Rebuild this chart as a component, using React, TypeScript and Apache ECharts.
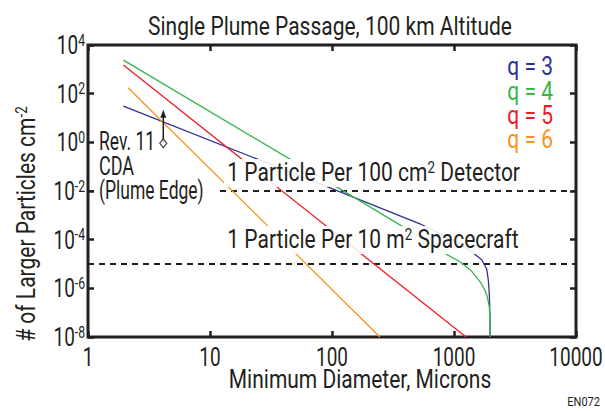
import React, { useEffect, useRef } from "react";
import * as echarts from "echarts";

// ---- data ----
const xTickValues = [1, 10, 100, 1000, 10000];
const xTickLabels = ["1", "10", "100", "1000", "10000"];
const yTickExponents = [4, 2, 0, -2, -4, -6, -8];

const seriesNames = ["q = 3", "q = 4", "q = 5", "q = 6"];
const seriesColors = ["#2e3192", "#39b54a", "#ed1c24", "#f7941d"];

const q3Data = [
  [1.95, 31], [100, 0.0124], [526, 4.5e-4], [1000, 9.2e-5], [1396, 3.2e-5],
  [1687, 1.5e-5], [1854, 6.2e-6], [1911, 2.2e-6], [1947, 6e-7], [1968, 1e-7], [1975, 1e-8],
];
const q4Data = [
  [1.95, 2400], [100, 0.0192], [500, 1.5e-4], [871, 2.5e-5], [1119, 1.24e-5], [1400, 5e-6],
  [1633, 1.9e-6], [1800, 8e-7], [1875, 4.5e-7], [1947, 1.75e-7], [1965, 6e-8], [1975, 1e-8],
];
const q5Data = [[1.95, 1500], [1255, 1e-8]];
const q6Data = [[2.13, 176], [247, 1e-8]];

const thresholdValues = [1e-2, 1e-5];
const thresholdRange = [1, 10000];
const cdaPoint = [4.14, 0.91];
const cdaArrowTop = 15;

const INK = "#231f20";
const FONT = "Roboto, 'Liberation Sans', sans-serif";

function rich(fill: string, size = 25, supSize = 16) {
  return {
    n: { fontFamily: FONT, fontSize: size, lineHeight: size + 1, fill },
    sup: { fontFamily: FONT, fontSize: supSize, lineHeight: supSize, verticalAlign: "top", fill },
  };
}

function label(id: string, x: number, y: number, text: string, o: any = {}) {
  return {
    type: "text",
    id,
    x,
    y,
    z: 100,
    scaleX: o.scaleX ?? 0.84,
    rotation: o.rotation ?? 0,
    silent: true,
    style: {
      text,
      fontFamily: FONT,
      fontSize: o.fontSize ?? 25,
      fill: o.fill ?? INK,
      align: o.align ?? "left",
      verticalAlign: "middle",
      rich: o.rich ?? rich(o.fill ?? INK),
      backgroundColor: o.bg,
      padding: o.padding,
    },
  };
}

export default function App() {
  const ref = useRef<HTMLDivElement>(null);
  useEffect(() => {
    const chart = echarts.init(ref.current!, null, { renderer: "svg" });
    const axisCommon = {
      axisLine: { show: false },
      axisTick: { show: true, inside: true, length: 6, lineStyle: { color: INK, width: 2.5 } },
      axisLabel: { show: false },
      splitLine: { show: false },
    };
    const lineSeries = (name: string, data: number[][], color: string) => ({
      name,
      type: "line",
      data,
      symbol: "none",
      clip: true,
      lineStyle: { color, width: 1.3 },
      z: 3,
    });
    chart.setOption({
      animation: false,
      grid: { left: 88, right: 29, top: 45, bottom: 74, show: true, borderColor: INK, borderWidth: 3, backgroundColor: "transparent" },
      xAxis: [
        { type: "log", logBase: 10, min: 1, max: 10000, position: "bottom", ...axisCommon },
        { type: "log", logBase: 10, min: 1, max: 10000, position: "top", ...axisCommon },
      ],
      yAxis: [
        { type: "log", logBase: 100, min: 1e-8, max: 1e4, position: "left", ...axisCommon },
        { type: "log", logBase: 100, min: 1e-8, max: 1e4, position: "right", ...axisCommon },
      ],
      series: [
        ...thresholdValues.map((v, i) => ({
          name: "threshold " + i,
          type: "line",
          symbol: "none",
          z: 2,
          lineStyle: { color: INK, width: 2, type: [6, 5] },
          data: thresholdRange.map((x) => [x, v]),
        })),
        lineSeries(seriesNames[0], q3Data, seriesColors[0]),
        lineSeries(seriesNames[1], q4Data, seriesColors[1]),
        lineSeries(seriesNames[2], q5Data, seriesColors[2]),
        lineSeries(seriesNames[3], q6Data, seriesColors[3]),
        {
          name: "CDA arrow",
          type: "line",
          z: 4,
          symbol: "none",
          showSymbol: true,
          lineStyle: { color: INK, width: 1.5 },
          itemStyle: { color: INK },
          data: [
            { value: cdaPoint, symbol: "none" },
            { value: [cdaPoint[0], cdaArrowTop], symbol: "triangle", symbolSize: [6, 8] },
          ],
        },
        {
          name: "Rev. 11 CDA",
          type: "scatter",
          z: 5,
          symbol: "diamond",
          symbolSize: [7, 9],
          itemStyle: { color: "#ffffff", borderColor: INK, borderWidth: 1.3 },
          data: [cdaPoint],
        },
      ],
    });

    const graphics: any[] = [];
    graphics.push(label("title", 330, 27, "{n|Single Plume Passage, 100 km Altitude}", { align: "center" }));
    graphics.push(label("xname", 360, 380, "{n|Minimum Diameter, Microns}", { align: "center" }));
    graphics.push(
      label("yname", 27, 224, "{n|# of Larger Particles cm}{sup|-2}", { align: "center", rotation: Math.PI / 2 })
    );
    xTickValues.forEach((v, i) => {
      const px = chart.convertToPixel({ xAxisIndex: 0 }, v) as number;
      graphics.push(label("xt" + i, px, 357, "{n|" + xTickLabels[i] + "}", { align: "center", scaleX: 0.76 }));
    });
    yTickExponents.forEach((e, i) => {
      const py = chart.convertToPixel({ yAxisIndex: 0 }, Math.pow(10, e)) as number;
      graphics.push(label("yt" + i, 85, py, "{n|10}{sup|" + e + "}", { align: "right", scaleX: 0.76 }));
    });
    const legendY = [67, 92, 116, 140];
    seriesNames.forEach((s, i) => {
      graphics.push(label("lg" + i, 553, legendY[i], "{n|" + s + "}", { align: "right", fill: seriesColors[i] }));
    });
    graphics.push(label("rev", 99, 141, "{n|Rev. 11}", { scaleX: 0.7 }));
    graphics.push(label("cda", 99, 166, "{n|CDA}", { scaleX: 0.72 }));
    graphics.push(label("edge", 99, 190, "{n|(Plume Edge)}", { scaleX: 0.7, bg: "#ffffff", padding: [0, 16, 0, 0] }));
    graphics.push(
      label("th1", 224, 173, "{n|1 Particle Per 100 cm}{sup|2}{n| Detector}", { bg: "rgba(255,255,255,0.88)", padding: [1, 4, 1, 4] })
    );
    graphics.push(
      label("th2", 224, 240, "{n|1 Particle Per 10 m}{sup|2}{n| Spacecraft}", { bg: "rgba(255,255,255,0.88)", padding: [1, 4, 1, 4] })
    );
    graphics.push(label("en", 600, 402, "{n|EN072}", { align: "right", scaleX: 0.85, rich: rich(INK, 13, 10) }));
    chart.setOption({ graphic: { elements: graphics } });

    return () => chart.dispose();
  }, []);
  return <div ref={ref} style={{ position: "absolute", left: 0, top: 0, width: 605, height: 411 }} />;
}
